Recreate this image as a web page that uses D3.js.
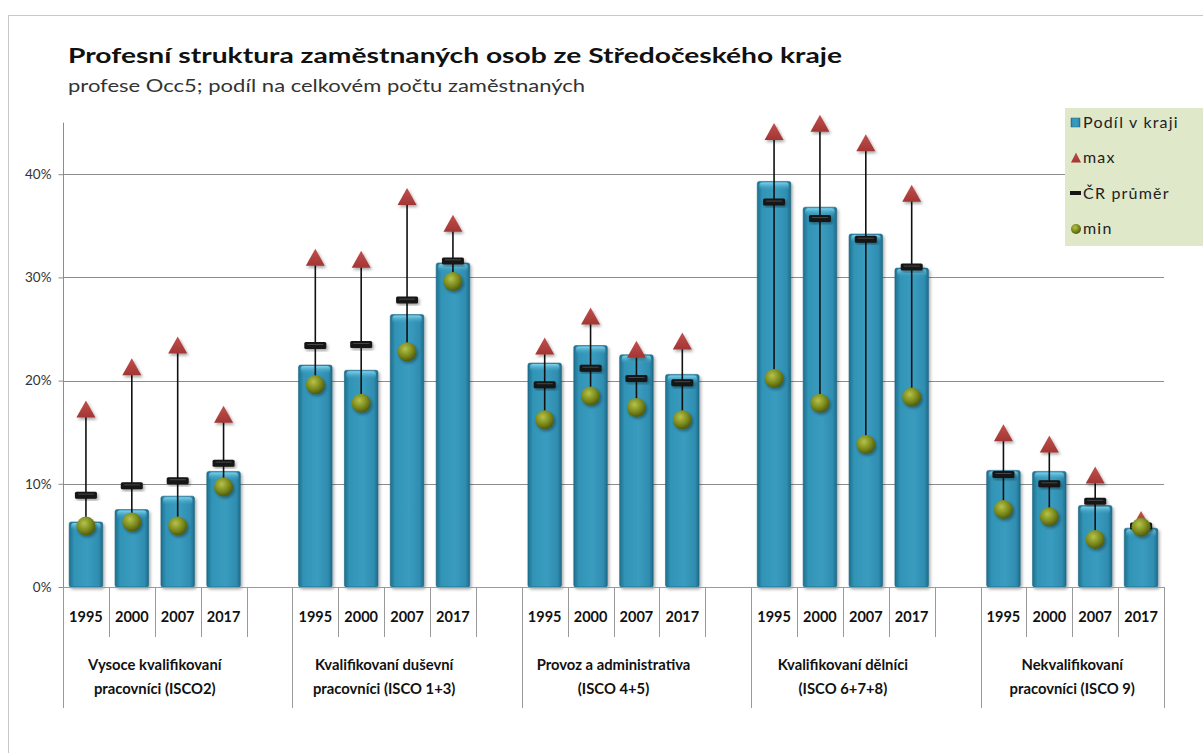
<!DOCTYPE html>
<html>
<head>
<meta charset="utf-8">
<script src="https://cdn.jsdelivr.net/npm/d3@7"></script>
<style>
  body { margin: 0; background: #fff; }
  svg { display: block; font-family: Lato, "Noto Sans", sans-serif; }
</style>
</head>
<body>
<svg id="main_svg" width="1203" height="753"></svg>
<script>
// hodnoty (v %)
var years = ["1995", "2000", "2007", "2017"];
var groups = [
    ["Vysoce kvalifikovaní", "pracovníci (ISCO2)"],
    ["Kvalifikovaní duševní", "pracovníci (ISCO 1+3)"],
    ["Provoz a administrativa", "(ISCO 4+5)"],
    ["Kvalifikovaní dělníci", "(ISCO 6+7+8)"],
    ["Nekvalifikovaní", "pracovníci (ISCO 9)"]
];
var podil  = [[6.3, 7.5, 8.8, 11.2], [21.5, 21.0, 26.4, 31.4], [21.7, 23.4, 22.5, 20.6], [39.3, 36.8, 34.2, 30.9], [11.3, 11.2, 7.9, 5.7]];
var maxV   = [[17.2, 21.3, 23.4, 16.7], [31.9, 31.7, 37.8, 35.2], [23.3, 26.2, 23.0, 23.8], [44.1, 44.9, 43.0, 38.1], [14.9, 13.8, 10.8, 6.5]];
var prumer = [[8.9, 9.8, 10.3, 12.0], [23.4, 23.5, 27.8, 31.6], [19.6, 21.2, 20.2, 19.8], [37.3, 35.7, 33.7, 31.0], [10.9, 10.0, 8.3, 5.9]];
var minV   = [[5.9, 6.3, 5.9, 9.7], [19.6, 17.8, 22.8, 29.6], [16.2, 18.5, 17.4, 16.2], [20.2, 17.8, 13.8, 18.4], [7.5, 6.8, 4.6, 5.8]];
var yTicks = [0, 10, 20, 30, 40];
var legendItems = ["Podíl v kraji", "max", "ČR průměr", "min"];

var svg = d3.select("#main_svg");

// rámeček grafu
svg.append("rect")
    .attr("x", 8.5).attr("y", 15.5)
    .attr("width", 1210).attr("height", 760)
    .attr("fill", "#fff")
    .attr("stroke", "#c8c8c8");

svg.append("text")
    .attr("x", 68).attr("y", 63)
    .attr("font-size", 21).attr("font-weight", "bold").attr("fill", "#111")
    .attr("textLength", 774).attr("lengthAdjust", "spacingAndGlyphs")
    .text("Profesní struktura zaměstnaných osob ze Středočeského kraje");
svg.append("text")
    .attr("x", 68).attr("y", 92)
    .attr("font-size", 17).attr("fill", "#333")
    .attr("textLength", 517).attr("lengthAdjust", "spacingAndGlyphs")
    .text("profese Occ5; podíl na celkovém počtu zaměstnaných");

// defs - gradienty a stíny
var defs = svg.append("defs");
var gBar = defs.append("linearGradient").attr("id", "barGrad").attr("x1", 0).attr("x2", 1).attr("y1", 0).attr("y2", 0);
gBar.append("stop").attr("offset", "0%").attr("stop-color", "#1f6f8e");
gBar.append("stop").attr("offset", "15%").attr("stop-color", "#3194b6");
gBar.append("stop").attr("offset", "55%").attr("stop-color", "#3a9cbf");
gBar.append("stop").attr("offset", "88%").attr("stop-color", "#2f8db0");
gBar.append("stop").attr("offset", "100%").attr("stop-color", "#1e6b89");
var gCap = defs.append("linearGradient").attr("id", "capGrad").attr("x1", 0).attr("x2", 0).attr("y1", 0).attr("y2", 1);
gCap.append("stop").attr("offset", "0%").attr("stop-color", "#7fd3ec");
gCap.append("stop").attr("offset", "100%").attr("stop-color", "#3a9cbf").attr("stop-opacity", 0);
var gMin = defs.append("radialGradient").attr("id", "minGrad").attr("cx", "40%").attr("cy", "35%").attr("r", "65%");
gMin.append("stop").attr("offset", "0%").attr("stop-color", "#b6c24a");
gMin.append("stop").attr("offset", "60%").attr("stop-color", "#7b8a1c");
gMin.append("stop").attr("offset", "100%").attr("stop-color", "#4f5a0e");
var gTri = defs.append("linearGradient").attr("id", "triGrad").attr("x1", 0).attr("x2", 0).attr("y1", 0).attr("y2", 1);
gTri.append("stop").attr("offset", "0%").attr("stop-color", "#c0504d");
gTri.append("stop").attr("offset", "100%").attr("stop-color", "#a33533");
var shadow = defs.append("filter").attr("id", "shadow").attr("x", "-30%").attr("y", "-30%").attr("width", "160%").attr("height", "160%");
shadow.append("feDropShadow").attr("dx", 1.5).attr("dy", 2).attr("stdDeviation", 1.5).attr("flood-color", "#000").attr("flood-opacity", 0.35);

// škály
var slots = [];
groups.forEach(function(g, i) {
    years.forEach(function(yr, j) { slots.push(i + "-" + j); });
    if (i < groups.length - 1) slots.push(i + "-blank");
});
var x = d3.scaleBand().domain(slots).range([63, 1164]).padding(0);
var y = d3.scaleLinear().domain([0, 45]).range([587, 122.6]);
var bw = x.bandwidth();
var barW = bw * 0.73;

// mřížka a osa y
svg.append("g")
    .selectAll("line")
    .data(yTicks.filter(function(d) { return d > 0; }))
    .enter().append("line")
    .attr("x1", 63).attr("x2", 1164)
    .attr("y1", function(d) { return Math.round(y(d)) + 0.5; })
    .attr("y2", function(d) { return Math.round(y(d)) + 0.5; })
    .attr("stroke", "#8c8c8c");

var yAxis = svg.append("g")
    .attr("transform", "translate(63.5,0)")
    .call(d3.axisLeft(y).tickValues(yTicks).tickSize(5).tickSizeOuter(0)
        .tickFormat(function(d) { return d + "%"; }));
yAxis.select(".domain").attr("stroke", "#8c8c8c").attr("d", "M0," + y(45) + "V" + y(0));
yAxis.selectAll(".tick line").attr("stroke", "#8c8c8c");
yAxis.selectAll(".tick text")
    .attr("font-family", "Lato, 'Noto Sans', sans-serif")
    .attr("font-size", 13.5).attr("fill", "#333").attr("x", -12);

// data pro body
var pts = [];
groups.forEach(function(g, i) {
    years.forEach(function(yr, j) {
        pts.push({ key: i + "-" + j, year: yr, podil: podil[i][j], max: maxV[i][j], prumer: prumer[i][j], min: minV[i][j] });
    });
});

// sloupce
var bars = svg.append("g").attr("id", "bars")
    .selectAll("g")
    .data(pts)
    .enter().append("g")
    .attr("transform", function(d) { return "translate(" + (x(d.key) + (bw - barW) / 2) + ",0)"; });
bars.append("rect")
    .attr("x", 0).attr("width", barW)
    .attr("y", function(d) { return y(d.podil); })
    .attr("height", function(d) { return y(0) - y(d.podil); })
    .attr("rx", 2)
    .attr("fill", "url(#barGrad)")
    .attr("stroke", "#1d6582").attr("stroke-width", 0.6)
    .attr("filter", "url(#shadow)");
bars.append("rect")
    .attr("x", 2).attr("width", barW - 4)
    .attr("y", function(d) { return y(d.podil) + 1; })
    .attr("height", 8).attr("rx", 3)
    .attr("fill", "url(#capGrad)");

// osa x - čáry kategorií
var catAxis = svg.append("g").attr("stroke", "#9a9a9a");
slots.forEach(function(s, k) {
    var xx = Math.round(x(s)) + 0.5;
    catAxis.append("line")
        .attr("x1", xx).attr("x2", xx)
        .attr("y1", 587).attr("y2", (k % 5 === 0) ? 708 : 637);
});
catAxis.append("line")
    .attr("x1", 1164.5).attr("x2", 1164.5).attr("y1", 587).attr("y2", 708);
catAxis.append("line")
    .attr("x1", 63).attr("x2", 1164.5).attr("y1", 587.5).attr("y2", 587.5);

svg.append("g")
    .selectAll("text")
    .data(pts)
    .enter().append("text")
    .attr("x", function(d) { return x(d.key) + bw / 2; })
    .attr("y", 622)
    .attr("text-anchor", "middle")
    .attr("font-size", 14.5).attr("font-weight", "bold").attr("fill", "#111")
    .text(function(d) { return d.year; });

var grpLabels = svg.append("g")
    .selectAll("text")
    .data(groups)
    .enter().append("text")
    .attr("text-anchor", "middle")
    .attr("font-size", 14.8).attr("font-weight", "bold").attr("fill", "#111")
    .attr("transform", function(d, i) {
        var cx = (x(i + "-0") + x(i + "-3") + bw) / 2;
        return "translate(" + cx + ",0)";
    });
grpLabels.selectAll("tspan")
    .data(function(d) { return d; })
    .enter().append("tspan")
    .attr("x", 0)
    .attr("y", function(d, k) { return 670 + k * 24; })
    .text(function(d) { return d; });

// spojnice min-max
var marks = svg.append("g").attr("id", "marks");
marks.selectAll("line")
    .data(pts)
    .enter().append("line")
    .attr("x1", function(d) { return x(d.key) + bw / 2; })
    .attr("x2", function(d) { return x(d.key) + bw / 2; })
    .attr("y1", function(d) { return y(d.max); })
    .attr("y2", function(d) { return y(d.min); })
    .attr("stroke", "#111").attr("stroke-width", 1.6);

// průměr ČR
marks.selectAll("rect.avg")
    .data(pts)
    .enter().append("rect")
    .attr("class", "avg")
    .attr("x", function(d) { return x(d.key) + bw / 2 - 11; })
    .attr("y", function(d) { return y(d.prumer) - 3.5; })
    .attr("width", 22).attr("height", 7).attr("rx", 1.5)
    .attr("fill", "#151515")
    .attr("filter", "url(#shadow)");
marks.selectAll("line.avgHi")
    .data(pts)
    .enter().append("line")
    .attr("class", "avgHi")
    .attr("x1", function(d) { return x(d.key) + bw / 2 - 8; })
    .attr("x2", function(d) { return x(d.key) + bw / 2 + 8; })
    .attr("y1", function(d) { return y(d.prumer) - 1; })
    .attr("y2", function(d) { return y(d.prumer) - 1; })
    .attr("stroke", "#555").attr("stroke-width", 0.8);

// max - trojúhelníky
marks.selectAll("path.max")
    .data(pts)
    .enter().append("path")
    .attr("class", "max")
    .attr("d", function(d) {
        var cx = x(d.key) + bw / 2, cy = y(d.max);
        return "M" + cx + "," + (cy - 9) + "L" + (cx + 9.5) + "," + (cy + 8) + "L" + (cx - 9.5) + "," + (cy + 8) + "Z";
    })
    .attr("fill", "url(#triGrad)")
    .attr("filter", "url(#shadow)");

// min - kuličky
marks.selectAll("circle.min")
    .data(pts)
    .enter().append("circle")
    .attr("class", "min")
    .attr("cx", function(d) { return x(d.key) + bw / 2; })
    .attr("cy", function(d) { return y(d.min); })
    .attr("r", 9.5)
    .attr("fill", "url(#minGrad)")
    .attr("filter", "url(#shadow)");

// legenda
var legend = svg.append("g").attr("transform", "translate(1065,108)");
legend.append("rect")
    .attr("width", 140).attr("height", 138)
    .attr("fill", "#dfe8c9");
var li = legend.selectAll("g")
    .data(legendItems)
    .enter().append("g")
    .attr("transform", function(d, i) { return "translate(0," + (14 + i * 35.5) + ")"; });
li.append("text")
    .attr("x", 18).attr("y", 5.5)
    .attr("font-size", 16).attr("fill", "#222")
    .attr("letter-spacing", 1.2)
    .text(function(d) { return d; });
li.each(function(d, i) {
    var g = d3.select(this);
    if (i === 0) {
        g.append("rect").attr("x", 6).attr("y", -4).attr("width", 9).attr("height", 9)
            .attr("fill", "url(#barGrad)").attr("stroke", "#1d6582").attr("stroke-width", 0.5);
    } else if (i === 1) {
        g.append("path").attr("d", "M11,-5L16,5L6,5Z").attr("fill", "url(#triGrad)");
    } else if (i === 2) {
        g.append("rect").attr("x", 5).attr("y", -2).attr("width", 11).attr("height", 4).attr("fill", "#151515");
    } else {
        g.append("circle").attr("cx", 11).attr("cy", 0.5).attr("r", 5).attr("fill", "url(#minGrad)");
    }
});
</script>
</body>
</html>
